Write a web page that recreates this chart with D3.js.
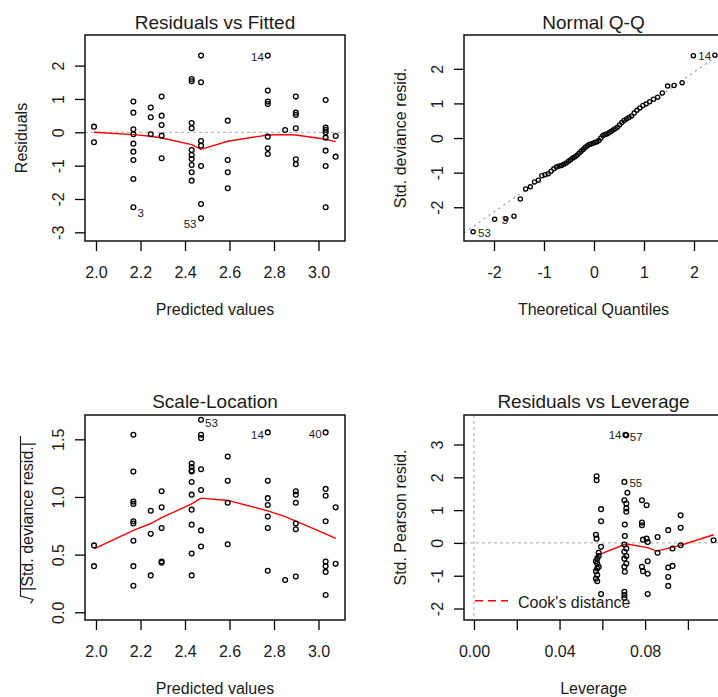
<!DOCTYPE html>
<html><head><meta charset="utf-8">
<script src="https://cdn.jsdelivr.net/npm/d3@7"></script>
<style>
body{margin:0;background:#fff}
svg text{font-family:"Liberation Sans",Arial,Helvetica,sans-serif;fill:#1a1a1a}
</style>
</head><body>
<svg id="c" width="718" height="697"></svg>
<script>
// ---------------- DATA ----------------
// Residuals vs Fitted (and Scale-Location) : fitted value groups
const fittedLevels = [1.991, 2.168, 2.246, 2.295, 2.430, 2.472, 2.592, 2.772, 2.850, 2.898, 3.032, 3.077];
const residualsByLevel = [
  [0.17, -0.30],
  [0.92, 0.59, 0.09, -0.06, -0.34, -0.58, -0.83, -1.40, -2.25],
  [0.74, 0.45, -0.06],
  [1.07, 0.50, 0.22, -0.10, -0.78],
  [1.60, 1.53, 0.28, 0.12, -0.53, -0.68, -0.80, -0.98, -1.20, -1.45],
  [2.30, 1.50, -0.26, -0.40, -1.01, -2.15, -2.58],
  [0.35, -0.83, -1.20, -1.68],
  [2.30, 1.25, 0.92, 0.85, -0.13, -0.48, -0.65],
  [0.07],
  [1.07, 0.59, 0.52, 0.12, -0.81, -0.96],
  [0.97, 0.14, 0.07, 0.00, -0.16, -0.55, -1.01, -2.25],
  [-0.11, -0.73]
];
const residSmooth = [0.00, -0.07, -0.12, -0.17, -0.37, -0.51, -0.27, -0.08, -0.07, -0.08, -0.21, -0.28];
const rvfIdFitted = [2.168, 2.472, 2.772];
const rvfIdResid  = [-2.25, -2.58, 2.30];
const rvfIdText   = ["3", "53", "14"];

const sqrtStdResidByLevel = [
  [0.58, 0.40],
  [1.54, 1.22, 0.96, 0.94, 0.79, 0.77, 0.62, 0.40, 0.23],
  [0.88, 0.68, 0.32],
  [1.05, 0.91, 0.73, 0.44, 0.43],
  [1.29, 1.26, 1.23, 1.22, 1.13, 1.02, 0.89, 0.76, 0.51, 0.32],
  [1.67, 1.54, 1.51, 1.24, 1.06, 0.71, 0.57],
  [1.35, 1.14, 0.95, 0.59],
  [1.56, 1.14, 0.99, 0.93, 0.83, 0.73, 0.36],
  [0.28],
  [1.05, 1.02, 0.95, 0.77, 0.72, 0.31],
  [1.56, 1.07, 1.01, 0.79, 0.44, 0.40, 0.35, 0.15],
  [0.91, 0.42]
];
const scaleSmooth = [0.55, 0.71, 0.77, 0.82, 0.94, 0.99, 0.97, 0.88, 0.83, 0.79, 0.68, 0.64];
const slIdFitted = [2.472, 2.772, 3.032];
const slIdValue  = [1.67, 1.56, 1.56];
const slIdText   = ["53", "14", "40"];

// Normal Q-Q
const qqTheoretical = [-2.418,-1.987,-1.762,-1.601,-1.473,-1.366,-1.273,-1.190,-1.113,-1.043,-0.978,-0.916,-0.858,-0.803,-0.750,-0.699,
  -0.650,-0.602,-0.556,-0.511,-0.467,-0.423,-0.381,-0.339,-0.298,-0.258,-0.218,-0.178,-0.137,-0.098,-0.059,-0.020,
  0.020,0.059,0.098,0.137,0.178,0.218,0.258,0.298,0.339,0.381,0.423,0.467,0.511,0.556,0.602,0.650,
  0.699,0.750,0.803,0.858,0.916,0.978,1.043,1.113,1.190,1.273,1.366,1.473,1.601,1.762,1.987,2.418];
const qqSample = [-2.71,-2.35,-2.33,-2.26,-1.76,-1.47,-1.41,-1.27,-1.22,-1.09,-1.06,-1.03,-0.96,-0.89,-0.84,-0.81,
  -0.79,-0.76,-0.72,-0.67,-0.63,-0.58,-0.54,-0.50,-0.44,-0.38,-0.33,-0.27,-0.23,-0.19,-0.17,-0.15,
  -0.13,-0.11,-0.07,0.00,0.07,0.10,0.12,0.15,0.19,0.23,0.27,0.31,0.38,0.45,0.51,0.55,
  0.59,0.64,0.72,0.80,0.87,0.94,0.98,1.05,1.12,1.18,1.30,1.50,1.52,1.60,2.38,2.39];
const qqLineX = [-2.6, 2.6];
const qqLineY = [-2.74, 2.51];
const qqIdX = [-2.418, -1.987, 1.987];
const qqIdY = [-2.71, -2.35, 2.38];
const qqIdText = ["53", "3", "14"];

// Residuals vs Leverage
const leverage = [
  0.0573,0.0573,0.0594,0.0594,0.0570,0.0573,0.0594,0.0583,0.0583,0.0576,0.0570,0.0576,0.0583,0.0576,0.0570,0.0576,0.0570,0.0576,0.0594,
  0.0708,0.0712,0.0703,0.0717,0.0703,0.0712,0.0712,0.0712,0.0705,0.0705,0.0703,0.0712,0.0703,0.0712,0.0703,0.0712,0.0703,0.0705,0.0703,0.0703,0.0703,
  0.0785,0.0807,0.0785,0.0785,0.0790,0.0807,0.0812,0.0812,0.0785,0.0790,0.0812,0.0812,
  0.0858,0.0858,
  0.0908,0.0928,0.0928,0.0908,0.0908,0.0908,
  0.0966,0.0966,0.0966,
  0.1120];
const pearsonStd = [
  2.03,1.91,1.03,0.66,0.25,0.13,-0.12,-0.30,-0.40,-0.48,-0.56,-0.63,-0.73,-0.78,-0.86,-0.98,-1.09,-1.17,-1.56,
  3.30,3.28,1.86,1.53,1.30,1.20,1.05,0.95,0.56,0.21,-0.05,-0.17,-0.27,-0.40,-0.48,-0.63,-0.73,-0.88,-1.49,-1.59,-1.68,
  1.30,1.15,0.62,0.54,0.10,0.13,0.03,-0.56,-0.73,-0.86,-0.94,-1.56,
  0.18,-0.30,
  0.39,-0.17,-0.70,-0.75,-1.04,-1.31,
  0.84,0.46,-0.07,
  0.08];
const levSmoothX = [0.0576, 0.0706, 0.0729, 0.0815, 0.0854, 0.0916, 0.0966, 0.1120];
const levSmoothY = [-0.38, -0.04, -0.05, -0.15, -0.25, -0.15, -0.07, 0.25];
const levIdX = [0.0708, 0.0712, 0.0703];
const levIdY = [3.30, 3.28, 1.86];
const levIdText = ["14", "57", "55"];

// tick values
const fitTicks = [2.0, 2.2, 2.4, 2.6, 2.8, 3.0];
const residTicks = [-3, -2, -1, 0, 1, 2];
const qqXTicks = [-2, -1, 0, 1, 2];
const qqYTicks = [-2, -1, 0, 1, 2];
const slTicks = [0.0, 0.5, 1.0, 1.5];
const levTicks = [0.00, 0.02, 0.04, 0.06, 0.08, 0.10];
const levTickLabels = ["0.00", "", "0.04", "", "0.08", ""];
const pearsonTicks = [-2, -1, 0, 1, 2, 3];

// ---------------- DRAWING ----------------
const svg = d3.select("#c");
const FONT = '"Liberation Sans", Arial, Helvetica, sans-serif';
const INK = "#1a1a1a";
const fmt1 = d => d.toFixed(1);
const fmt0 = d => String(d);

function panel(cfg) {
  const {x0, x1, y0, y1} = cfg.box;
  const x = d3.scaleLinear().domain(cfg.xDomain).range([x0, x1]);
  const y = d3.scaleLinear().domain(cfg.yDomain).range([y1, y0]);
  const g = svg.append("g");
  const cid = "clip" + cfg.key;
  svg.append("clipPath").attr("id", cid).append("rect")
    .attr("x", x0).attr("y", y0).attr("width", x1 - x0).attr("height", y1 - y0);
  const clipped = g.append("g").attr("clip-path", `url(#${cid})`);

  const ax = g.append("g").attr("transform", `translate(0,${y1})`)
    .call(d3.axisBottom(x).tickValues(cfg.xTicks).tickSize(10).tickSizeOuter(0).tickFormat(cfg.xFmt));
  ax.select(".domain").remove();
  ax.attr("font-family", FONT).attr("font-size", 16);
  ax.selectAll("line").attr("stroke", "#000").attr("stroke-width", 1.3);
  ax.selectAll("text").attr("y", 31).attr("dy", "0.35em").attr("fill", INK);

  const ay = g.append("g").attr("transform", `translate(${x0},0)`)
    .call(d3.axisLeft(y).tickValues(cfg.yTicks).tickSize(10).tickSizeOuter(0).tickFormat(cfg.yFmt));
  ay.select(".domain").remove();
  ay.attr("font-family", FONT).attr("font-size", 16);
  ay.selectAll("line").attr("stroke", "#000").attr("stroke-width", 1.3);
  ay.selectAll("text").attr("x", 0).attr("dy", null)
    .attr("text-anchor", "middle").attr("dominant-baseline", "central")
    .attr("transform", "translate(-27,0) rotate(-90)").attr("fill", INK);

  g.append("rect").attr("x", x0).attr("y", y0).attr("width", x1 - x0).attr("height", y1 - y0)
    .attr("fill", "none").attr("stroke", "#111").attr("stroke-width", 1.5);

  g.append("text").attr("x", (x0 + x1) / 2).attr("y", cfg.titleY)
    .attr("text-anchor", "middle").attr("dominant-baseline", "central")
    .attr("font-size", 19).text(cfg.title);
  g.append("text").attr("x", (x0 + x1) / 2).attr("y", y1 + 68)
    .attr("text-anchor", "middle").attr("dominant-baseline", "central")
    .attr("font-size", 16).text(cfg.xLabel);
  if (cfg.yLabel) {
    g.append("text").attr("transform", `translate(${x0 - 64},${(y0 + y1) / 2}) rotate(-90)`)
      .attr("text-anchor", "middle").attr("dominant-baseline", "central")
      .attr("font-size", 16).text(cfg.yLabel);
  }
  return {x, y, g, clipped};
}

function points(p, xs, ys, r) {
  p.g.append("g").selectAll("circle").data(xs.map((v, i) => [v, ys[i]])).join("circle")
    .attr("cx", d => p.x(d[0])).attr("cy", d => p.y(d[1])).attr("r", r)
    .attr("fill", "none").attr("stroke", "#000").attr("stroke-width", 1.3);
}
function ids(p, xs, ys, texts, offs) {
  p.g.append("g").selectAll("text").data(texts).join("text")
    .attr("x", (d, i) => p.x(xs[i]) + offs[i][0])
    .attr("y", (d, i) => p.y(ys[i]) + offs[i][1])
    .attr("text-anchor", (d, i) => offs[i][0] < 0 ? "end" : "start")
    .attr("dominant-baseline", "central")
    .attr("font-size", 11.5).text(d => d);
}
function flatten(levels, byLevel) {
  const xs = [], ys = [];
  levels.forEach((lv, i) => byLevel[i].forEach(v => { xs.push(lv); ys.push(v); }));
  return [xs, ys];
}
const smoothLine = (p, xs, ys) => {
  const line = d3.line().x(d => p.x(d[0])).y(d => p.y(d[1]));
  p.clipped.append("path").attr("d", line(xs.map((v, i) => [v, ys[i]])))
    .attr("fill", "none").attr("stroke", "#ff0000").attr("stroke-width", 1.4);
};
const hDotted = (p, v, col) => {
  const [a, b] = p.x.range();
  p.clipped.append("line").attr("x1", a).attr("x2", b).attr("y1", p.y(v)).attr("y2", p.y(v))
    .attr("stroke", col).attr("stroke-width", 1.3).attr("stroke-dasharray", "3,3");
};

const LB = {x0: 85, x1: 345}, RB = {x0: 464, x1: 723};
const TB = {y0: 35, y1: 241}, BB = {y0: 415, y1: 620};

// Panel 1: Residuals vs Fitted
const p1 = panel({key: "a", box: {...LB, ...TB}, xDomain: [1.9506, 3.119], yDomain: [-3.26, 2.918],
  xTicks: fitTicks, xFmt: fmt1, yTicks: residTicks, yFmt: fmt0, titleY: 22.5,
  title: "Residuals vs Fitted", xLabel: "Predicted values", yLabel: "Residuals"});
hDotted(p1, 0, "#bbbbbb");
const [f1x, f1y] = flatten(fittedLevels, residualsByLevel);
points(p1, f1x, f1y, 2.4);
smoothLine(p1, fittedLevels, residSmooth);
ids(p1, rvfIdFitted, rvfIdResid, rvfIdText, [[4, 6], [-4.5, 6], [-4, 1]]);

// Panel 2: Normal Q-Q
const p2 = panel({key: "b", box: {...RB, ...TB}, xDomain: [-2.6, 2.58], yDomain: [-2.975, 2.977],
  xTicks: qqXTicks, xFmt: fmt0, yTicks: qqYTicks, yFmt: fmt0, titleY: 22.5,
  title: "Normal Q-Q", xLabel: "Theoretical Quantiles", yLabel: "Std. deviance resid."});
p2.clipped.append("line").attr("x1", p2.x(qqLineX[0])).attr("y1", p2.y(qqLineY[0]))
  .attr("x2", p2.x(qqLineX[1])).attr("y2", p2.y(qqLineY[1]))
  .attr("stroke", "#999").attr("stroke-width", 1.2).attr("stroke-dasharray", "2,4");
points(p2, qqTheoretical, qqSample, 2.1);
ids(p2, qqIdX, qqIdY, qqIdText, [[5, 1], [7, 1], [5, 0]]);

// Panel 3: Scale-Location
const p3 = panel({key: "c", box: {...LB, ...BB}, xDomain: [1.9506, 3.119], yDomain: [-0.067, 1.711],
  xTicks: fitTicks, xFmt: fmt1, yTicks: slTicks, yFmt: fmt1, titleY: 401,
  title: "Scale-Location", xLabel: "Predicted values", yLabel: null});
{
  const cy = (BB.y0 + BB.y1) / 2;
  p3.g.append("text").attr("transform", `translate(27,${cy - 1}) rotate(-90)`)
    .attr("text-anchor", "middle").attr("dominant-baseline", "central")
    .attr("font-size", 16).text("|Std. deviance resid.|");
  p3.g.append("path")
    .attr("d", `M20.5,436 L20.5,596 L33,599.5 L30.5,603.5`)
    .attr("fill", "none").attr("stroke", INK).attr("stroke-width", 1.2);
}
const [f3x, f3y] = flatten(fittedLevels, sqrtStdResidByLevel);
points(p3, f3x, f3y, 2.4);
smoothLine(p3, fittedLevels, scaleSmooth);
ids(p3, slIdFitted, slIdValue, slIdText, [[4, 3], [-4, 3], [-4, 2]]);

// Panel 4: Residuals vs Leverage
const p4 = panel({key: "d", box: {...RB, ...BB}, xDomain: [-0.00467, 0.1164], yDomain: [-2.35, 3.90],
  xTicks: levTicks, xFmt: (d, i) => levTickLabels[i], yTicks: pearsonTicks, yFmt: fmt0, titleY: 401,
  title: "Residuals vs Leverage", xLabel: "Leverage", yLabel: "Std. Pearson resid."});
hDotted(p4, 0, "#bbbbbb");
p4.clipped.append("line").attr("x1", p4.x(0)).attr("x2", p4.x(0)).attr("y1", BB.y0).attr("y2", BB.y1)
  .attr("stroke", "#bbbbbb").attr("stroke-width", 1.3).attr("stroke-dasharray", "3,3");
points(p4, leverage, pearsonStd, 2.4);
smoothLine(p4, levSmoothX, levSmoothY);
ids(p4, levIdX, levIdY, levIdText, [[-4, 0.5], [3.5, 2], [5, 1]]);
// legend
p4.g.append("line").attr("x1", 475).attr("x2", 508).attr("y1", 600.7).attr("y2", 600.7)
  .attr("stroke", "#ff0000").attr("stroke-width", 1.4).attr("stroke-dasharray", "8,5");
p4.g.append("text").attr("x", 518).attr("y", 602.5).attr("dominant-baseline", "central")
  .attr("font-size", 16).text("Cook's distance");
</script>
</body></html>
